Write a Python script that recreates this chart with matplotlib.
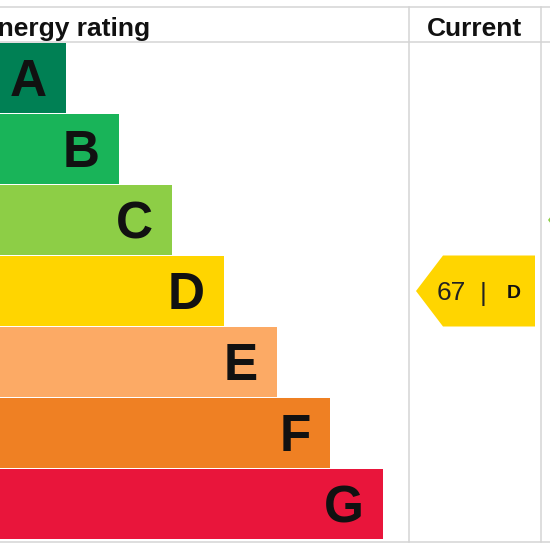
import matplotlib.pyplot as plt
from matplotlib.patches import Polygon

plt.rcParams['font.family'] = ['Liberation Sans', 'DejaVu Sans']

# bands of the rating scale
bands = ['A', 'B', 'C', 'D', 'E', 'F', 'G']
band_colors = ['#008054', '#19b459', '#8dce46', '#ffd500', '#fcaa65', '#ef8023', '#e9153b']
band_lengths = [66, 119, 172, 224, 277, 330, 383]

current_score = 67
current_band = 'D'
potential_band = 'C'

header_left = 'Energy rating'
header_current = 'Current'

# figure in pixel units
fig = plt.figure(figsize=(5.5, 5.5), dpi=100)
ax = fig.add_axes([0, 0, 1, 1])
ax.set_xlim(0, 550)
ax.set_ylim(550, 0)
ax.axis('off')

row_top = 42.5
row_h = 71
centers = [row_top + row_h * i + row_h / 2 for i in range(len(bands))]

# bars
ax.barh(centers, band_lengths, height=row_h - 1.5, left=0, color=band_colors, zorder=2)

letter_pt = 37
cap = 0.716 * letter_pt * 100 / 72
for c, L, b in zip(centers, band_lengths, bands):
    ax.text(L - 19, c + cap / 2, b, ha='right', va='baseline',
            fontsize=letter_pt, fontweight='bold', color='#111111', zorder=3)

# grid lines
grid_col = '#d4d4d4'
col1, col2 = 409, 541
for y in [7, 41.5, 542]:
    ax.plot([0, 550], [y, y], color=grid_col, lw=1.1, zorder=1)
for x in [col1, col2]:
    ax.plot([x, x], [7, 542], color=grid_col, lw=1.1, zorder=1)

# headers
ax.text(150, 36, header_left, ha='right', va='baseline', fontsize=19,
        fontweight='bold', color='#111111')
ax.text((col1 + col2) / 2, 36, header_current, ha='center', va='baseline',
        fontsize=19, fontweight='bold', color='#111111')


def arrow(col_left, col_right, band):
    i = bands.index(band)
    c = centers[i]
    top, bot = c - 35.5, c + 35.5
    pts = [(col_left + 7, c), (col_left + 34, top), (col_right, top),
           (col_right, bot), (col_left + 34, bot)]
    return Polygon(pts, closed=True, color=band_colors[i], lw=0, zorder=2)


# current rating arrow
ax.add_patch(arrow(col1, 535, current_band))
ci = centers[bands.index(current_band)]
ax.text(451, ci + 9.5, str(current_score), ha='center', va='baseline',
        fontsize=19, color='#222222', zorder=3)
ax.text(483, ci + 9.5, '|', ha='center', va='baseline',
        fontsize=19, color='#222222', zorder=3)
ax.text(514, ci + 7, current_band, ha='center', va='baseline',
        fontsize=14, fontweight='bold', color='#111111', zorder=3)

# potential arrow (mostly outside the view)
ax.add_patch(arrow(col2, 700, potential_band))

fig.savefig('out.png', dpi=100, facecolor='white')
